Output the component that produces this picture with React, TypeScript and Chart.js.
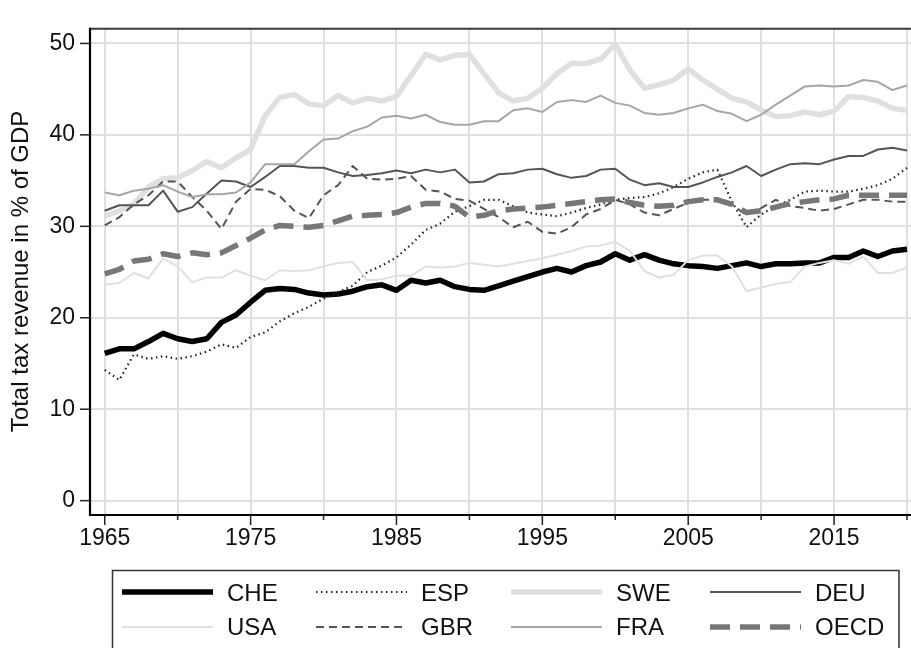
import React, { useEffect, useRef } from "react";
import { Chart, registerables } from "chart.js";

Chart.register(...registerables);

const years = [
  1965, 1966, 1967, 1968, 1969, 1970, 1971, 1972, 1973, 1974,
  1975, 1976, 1977, 1978, 1979, 1980, 1981, 1982, 1983, 1984,
  1985, 1986, 1987, 1988, 1989, 1990, 1991, 1992, 1993, 1994,
  1995, 1996, 1997, 1998, 1999, 2000, 2001, 2002, 2003, 2004,
  2005, 2006, 2007, 2008, 2009, 2010, 2011, 2012, 2013, 2014,
  2015, 2016, 2017, 2018, 2019, 2020,
];

const che = [
  16.1, 16.6, 16.6, 17.4, 18.3, 17.7, 17.4, 17.7, 19.5, 20.3,
  21.7, 23.0, 23.2, 23.1, 22.7, 22.5, 22.6, 22.9, 23.4, 23.6,
  23.0, 24.1, 23.8, 24.1, 23.4, 23.1, 23.0, 23.5, 24.0, 24.5,
  25.0, 25.4, 25.0, 25.7, 26.1, 27.0, 26.3, 26.9, 26.3, 25.9,
  25.7, 25.6, 25.4, 25.7, 26.0, 25.6, 25.9, 25.9, 26.0, 26.0,
  26.6, 26.6, 27.3, 26.7, 27.3, 27.5,
];
const esp = [
  14.3, 13.2, 16.0, 15.5, 15.8, 15.5, 15.8, 16.3, 17.1, 16.7,
  17.9, 18.4, 19.6, 20.5, 21.2, 22.1, 22.8, 23.5, 25.0, 25.7,
  26.6, 28.0, 29.6, 30.3, 31.6, 32.2, 32.9, 32.9, 32.2, 31.5,
  31.3, 31.1, 31.5, 32.0, 32.4, 32.9, 33.1, 33.2, 33.6, 34.3,
  35.2, 35.9, 36.2, 32.7, 29.9, 31.3, 32.2, 32.9, 33.8, 33.9,
  33.8, 33.8, 34.1, 34.5, 35.2, 36.4,
];
const swe = [
  31.1, 31.7, 32.4, 34.3, 35.2, 35.3, 36.1, 37.1, 36.4, 37.5,
  38.4, 42.1, 44.1, 44.4, 43.4, 43.2, 44.3, 43.5, 44.0, 43.7,
  44.2, 46.5, 48.8, 48.2, 48.7, 48.8, 46.7, 44.6, 43.7, 44.0,
  45.1, 46.7, 47.8, 47.8, 48.3, 49.9, 47.1, 45.1, 45.5, 46.0,
  47.2, 46.0, 45.0, 44.0, 43.6, 42.7, 42.0, 42.1, 42.5, 42.2,
  42.6, 44.2, 44.1, 43.7, 42.9, 42.7,
];
const deu = [
  31.7, 32.3, 32.3, 32.3, 33.9, 31.6, 32.1, 33.6, 35.0, 34.9,
  34.3, 35.4, 36.6, 36.6, 36.4, 36.4, 35.9, 35.5, 35.6, 35.8,
  36.1, 35.8, 36.2, 35.9, 36.2, 34.8, 34.9, 35.7, 35.8, 36.2,
  36.3, 35.7, 35.3, 35.5, 36.2, 36.3, 35.1, 34.5, 34.7, 34.3,
  34.3, 34.8, 35.4, 35.9, 36.6, 35.5, 36.2, 36.8, 36.9, 36.8,
  37.3, 37.7, 37.7, 38.4, 38.6, 38.3,
];
const usa = [
  23.6, 23.8, 24.9, 24.3, 26.5, 25.6, 23.9, 24.4, 24.4, 25.2,
  24.6, 24.1, 25.2, 25.1, 25.2, 25.6, 26.0, 26.1, 24.1, 24.2,
  24.6, 24.6, 25.6, 25.5, 25.6, 26.0, 25.8, 25.6, 25.9, 26.2,
  26.5, 26.9, 27.3, 27.8, 27.9, 28.3, 27.3, 25.1, 24.4, 24.7,
  26.3, 26.8, 26.8, 25.6, 22.9, 23.3, 23.7, 23.9, 25.6, 26.0,
  26.3, 25.9, 26.7, 24.9, 24.9, 25.5,
];
const gbr = [
  30.1, 31.0, 32.4, 33.4, 34.9, 34.9, 33.2, 31.7, 29.7, 32.7,
  34.1, 34.0, 33.3, 31.7, 30.9, 33.4, 34.5, 36.6, 35.2, 35.1,
  35.2, 35.5, 34.0, 33.8, 33.0, 32.8, 31.9, 31.0, 29.9, 30.5,
  29.4, 29.2, 29.9, 31.3, 31.9, 32.9, 32.4, 31.5, 31.2, 31.9,
  32.6, 32.9, 32.9, 32.4, 31.2, 32.0, 32.9, 32.2, 32.0, 31.7,
  31.9, 32.4, 32.9, 32.9, 32.7, 32.7,
];
const fra = [
  33.7, 33.4, 33.9, 34.1, 34.5, 33.8, 33.2, 33.5, 33.5, 33.7,
  34.8, 36.8, 36.8, 36.8, 38.2, 39.5, 39.6, 40.4, 40.9, 41.9,
  42.1, 41.8, 42.2, 41.4, 41.1, 41.1, 41.5, 41.5, 42.7, 42.9,
  42.5, 43.6, 43.8, 43.6, 44.3, 43.5, 43.2, 42.4, 42.2, 42.4,
  42.9, 43.3, 42.6, 42.3, 41.5, 42.2, 43.3, 44.3, 45.3, 45.4,
  45.3, 45.4, 46.0, 45.8, 44.9, 45.4,
];
const oecd = [
  24.8, 25.3, 26.2, 26.4, 27.0, 26.7, 27.1, 26.9, 27.1, 27.9,
  28.7, 29.6, 30.1, 30.0, 29.9, 30.1, 30.6, 31.1, 31.2, 31.3,
  31.5, 32.1, 32.5, 32.5, 32.2, 31.0, 31.2, 31.7, 31.9, 32.0,
  32.1, 32.3, 32.5, 32.7, 32.9, 33.0, 32.6, 32.3, 32.2, 32.3,
  32.7, 32.9, 32.9, 32.4, 31.5, 31.7, 32.1, 32.5, 32.7, 32.9,
  33.0, 33.4, 33.4, 33.4, 33.4, 33.4,
];

const xGridTicks = [1965, 1970, 1975, 1980, 1985, 1990, 1995, 2000, 2005, 2010, 2015, 2020];
const xLabelTicks = [1965, 1975, 1985, 1995, 2005, 2015];
const yTicks = [0, 10, 20, 30, 40, 50];
const yTitle = "Total tax revenue in % of GDP";

const FONT = "'Liberation Sans', Arial, Helvetica, sans-serif";

const seriesDefs = [
  { label: "CHE", data: che, color: "#000000", width: 5.5, dash: [] as number[] },
  { label: "ESP", data: esp, color: "#222222", width: 2.2, dash: [1.5, 3.5] },
  { label: "SWE", data: swe, color: "#e0e0e0", width: 5.5, dash: [] as number[] },
  { label: "DEU", data: deu, color: "#555555", width: 2, dash: [] as number[] },
  { label: "USA", data: usa, color: "#e0e0e0", width: 2, dash: [] as number[] },
  { label: "GBR", data: gbr, color: "#555555", width: 2, dash: [8, 5] },
  { label: "FRA", data: fra, color: "#a6a6a6", width: 2, dash: [] as number[] },
  { label: "OECD", data: oecd, color: "#777777", width: 5.5, dash: [20, 10] },
];

const framePlugin = {
  id: "framePlugin",
  afterDraw(chart: any) {
    const { ctx, chartArea: ca, scales } = chart;
    const xs = scales.x;
    const ys = scales.y;
    ctx.save();
    ctx.strokeStyle = "#3a3a3a";
    ctx.lineWidth = 2;
    ctx.beginPath();
    ctx.moveTo(ca.left, ca.top);
    ctx.lineTo(ca.right, ca.top);
    ctx.stroke();
    ctx.strokeStyle = "#000000";
    ctx.lineWidth = 2.2;
    ctx.beginPath();
    ctx.moveTo(ca.left, ca.top - 1);
    ctx.lineTo(ca.left, ca.bottom + 1);
    ctx.lineTo(ca.right, ca.bottom + 1);
    ctx.stroke();
    ctx.lineWidth = 1.5;
    ctx.strokeStyle = "#222222";
    for (const v of yTicks) {
      const py = ys.getPixelForValue(v);
      ctx.beginPath();
      ctx.moveTo(ca.left - 10, py);
      ctx.lineTo(ca.left, py);
      ctx.stroke();
    }
    for (const v of xGridTicks) {
      const px = xs.getPixelForValue(v);
      const major = xLabelTicks.includes(v);
      ctx.beginPath();
      ctx.moveTo(px, ca.bottom + 1);
      ctx.lineTo(px, ca.bottom + (major ? 11 : 6));
      ctx.stroke();
    }
    ctx.fillStyle = "#111111";
    ctx.font = `24px ${FONT}`;
    ctx.textAlign = "center";
    ctx.textBaseline = "alphabetic";
    ctx.translate(28, (ca.top + ca.bottom) / 2);
    ctx.rotate(-Math.PI / 2);
    ctx.fillText(yTitle, 0, 0);
    ctx.restore();

    ctx.save();
    ctx.strokeStyle = "#333333";
    ctx.lineWidth = 1.5;
    ctx.strokeRect(112.5, 570.5, 786.5, 100);
    const colLineStart = [122, 316, 511, 710];
    const lineLen = 91;
    const rowY = [592, 627];
    const rowBase = [600.8, 635];
    ctx.font = `24px ${FONT}`;
    ctx.textAlign = "left";
    ctx.textBaseline = "alphabetic";
    seriesDefs.forEach((s, i) => {
      const col = i % 4;
      const row = Math.floor(i / 4);
      const x0 = colLineStart[col];
      ctx.strokeStyle = s.color;
      ctx.lineWidth = s.width;
      ctx.setLineDash(s.dash);
      ctx.lineCap = "butt";
      ctx.beginPath();
      ctx.moveTo(x0, rowY[row]);
      ctx.lineTo(x0 + lineLen, rowY[row]);
      ctx.stroke();
      ctx.setLineDash([]);
      ctx.fillStyle = "#111111";
      ctx.fillText(s.label, x0 + 105, rowBase[row]);
    });
    ctx.restore();
  },
};

export default function App() {
  const canvasRef = useRef<HTMLCanvasElement | null>(null);

  useEffect(() => {
    if (!canvasRef.current) return;
    const datasets = seriesDefs.map((s, i) => ({
      label: s.label,
      data: years.map((yr, k) => ({ x: yr, y: s.data[k] })),
      borderColor: s.color,
      backgroundColor: s.color,
      borderWidth: s.width,
      borderDash: s.dash,
      borderCapStyle: "butt" as const,
      borderJoinStyle: "round" as const,
      pointRadius: 0,
      tension: 0,
      fill: false,
      order: seriesDefs.length - i,
    }));

    const chart = new Chart(canvasRef.current, {
      type: "line",
      data: { datasets },
      options: {
        animation: false,
        responsive: false,
        maintainAspectRatio: false,
        devicePixelRatio: 1,
        layout: { padding: { top: 6.7, right: 0, bottom: 94, left: 0 } },
        plugins: {
          legend: { display: false },
          tooltip: { enabled: false },
          title: { display: false },
        },
        font: { family: FONT },
        scales: {
          x: {
            type: "linear",
            min: 1963.99,
            max: 2020.89,
            afterBuildTicks: (scale: any) => {
              scale.ticks = xGridTicks.map((v) => ({ value: v }));
            },
            afterFit: (scale: any) => {
              scale.height = 40;
            },
            grid: { color: "#e0e0e0", lineWidth: 2, drawTicks: false },
            border: { display: false },
            ticks: {
              autoSkip: false,
              maxRotation: 0,
              padding: 11,
              color: "#111111",
              font: { family: FONT, size: 23 },
              callback: (v: any) => (xLabelTicks.includes(Number(v)) ? String(v) : ""),
            },
          },
          y: {
            type: "linear",
            min: -1.46,
            max: 51.6,
            afterBuildTicks: (scale: any) => {
              scale.ticks = yTicks.map((v) => ({ value: v }));
            },
            afterFit: (scale: any) => {
              scale.width = 90;
            },
            grid: { color: "#e0e0e0", lineWidth: 2, drawTicks: false },
            border: { display: false },
            ticks: {
              padding: 15,
              color: "#111111",
              font: { family: FONT, size: 23 },
              callback: (v: any) => String(v),
            },
          },
        },
      },
      plugins: [framePlugin],
    });
    return () => chart.destroy();
  }, []);

  return (
    <div
      style={{
        position: "fixed",
        left: 0,
        top: 0,
        width: 911,
        height: 648,
        overflow: "hidden",
        background: "#ffffff",
      }}
    >
      <canvas ref={canvasRef} width={920} height={648} style={{ display: "block", width: 920, height: 648 }} />
    </div>
  );
}
